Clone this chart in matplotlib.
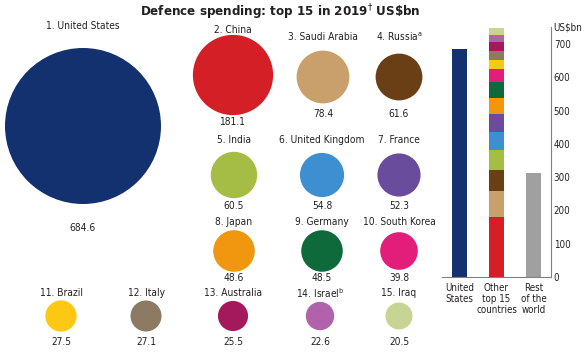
import matplotlib.pyplot as plt
from matplotlib.patches import Circle
import numpy as np

plt.rcParams['font.family'] = ['DejaVu Sans']
plt.rcParams['font.stretch'] = 'condensed'
plt.rcParams['mathtext.fontset'] = 'dejavusans'

# data
countries = ['United States', 'China', 'Saudi Arabia', 'Russia$^{\\mathrm{a}}$', 'India',
             'United Kingdom', 'France', 'Japan', 'Germany', 'South Korea', 'Brazil',
             'Italy', 'Australia', 'Israel$^{\\mathrm{b}}$', 'Iraq']
spending = [684.6, 181.1, 78.4, 61.6, 60.5, 54.8, 52.3, 48.6, 48.5, 39.8,
            27.5, 27.1, 25.5, 22.6, 20.5]
colors = ['#13316e', '#d51f27', '#c9a06b', '#6b3f15', '#a5bd45', '#3d8fd2', '#6a4c9c',
          '#f1960f', '#0e6a3a', '#e21d7a', '#fcc814', '#8c7b62', '#a3195b', '#b062aa',
          '#c6d593']
restOfWorld = 313.0
barLabels = ['United\nStates', 'Other\ntop 15\ncountries', 'Rest\nof the\nworld']
yTicks = [0, 100, 200, 300, 400, 500, 600, 700]

# layout (pixels): x, label y, circle centre y, value y
layout = [(83, 26, 126, 228),
          (233, 30, 75, 122), (323, 37, 77, 114), (399, 37, 77, 114),
          (234, 140, 175, 206), (322, 140, 175, 206), (399, 140, 175, 206),
          (234, 222, 251, 278), (322, 222, 251, 278), (399, 222, 251, 278),
          (61, 293, 316, 342), (146, 293, 316, 342), (233, 293, 316, 342),
          (320, 293, 316, 342), (399, 293, 316, 342)]
maxRadius = 78.0
textColor = '#231f20'
fs = 7.3

W, H = 584, 352
fig = plt.figure(figsize=(W / 100, H / 100), dpi=100)
ax = fig.add_axes([0, 0, 1, 1])
ax.set_xlim(0, W)
ax.set_ylim(H, 0)
ax.axis('off')

ax.text(280, 12, 'Defence spending: top 15 in 2019$^{\\dagger}$ US\\$bn', ha='center', va='center',
        fontsize=9.5, fontweight='bold', color=textColor)

for i, (name, val, col) in enumerate(zip(countries, spending, colors)):
    x, ly, cy, vy = layout[i]
    r = maxRadius * np.sqrt(val / spending[0])
    ax.add_patch(Circle((x, cy), r, facecolor=col, edgecolor='none'))
    ax.text(x, ly, f'{i + 1}. {name}', ha='center', va='center', fontsize=fs, color=textColor)
    ax.text(x, vy, f'{val:.1f}', ha='center', va='center', fontsize=fs, color=textColor)

# stacked bar chart on the right
left, right, bottom, top = 442, 551, 277, 27
bx = fig.add_axes([left / W, 1 - bottom / H, (right - left) / W, (bottom - top) / H])
bx.set_ylim(0, (bottom - top) / (233.0 / 700))
bx.set_xlim(-0.47, 2.47)
bw = 0.42
bx.bar(0, spending[0], bw, color=colors[0])
base = 0
for val, col in zip(spending[1:], colors[1:]):
    bx.bar(1, val, bw, bottom=base, color=col)
    base += val
bx.bar(2, restOfWorld, bw, color='#a0a0a0')

for s in ['top', 'left']:
    bx.spines[s].set_visible(False)
for s in ['bottom', 'right']:
    bx.spines[s].set_color('#808080')
    bx.spines[s].set_linewidth(0.8)
bx.yaxis.tick_right()
bx.set_yticks(yTicks)
bx.set_xticks([0, 1, 2])
bx.set_xticklabels(barLabels, fontsize=7, color=textColor, linespacing=1.15)
bx.tick_params(axis='y', length=0, pad=2, labelsize=7, labelcolor=textColor)
bx.tick_params(axis='x', length=0, pad=4)
bx.patch.set_alpha(0)
ax.text(568, 28, 'US\\$bn', ha='center', va='center', fontsize=7, color=textColor)

fig.savefig('out.png', dpi=100)
